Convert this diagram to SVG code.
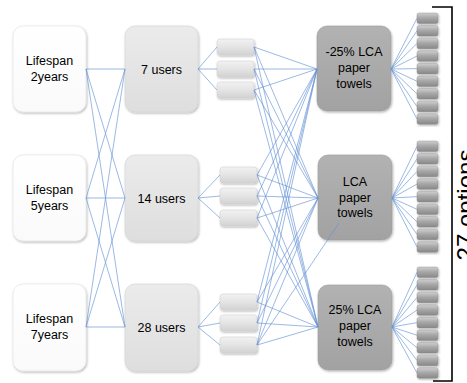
<svg xmlns="http://www.w3.org/2000/svg" width="467" height="383" viewBox="0 0 467 383">
<defs>
<filter id="sh" x="-20%" y="-20%" width="140%" height="140%"><feDropShadow dx="0.8" dy="1.2" stdDeviation="1.2" flood-color="#000" flood-opacity="0.3"/></filter>
<linearGradient id="gWhite" x1="0" y1="0" x2="0" y2="1"><stop offset="0" stop-color="#ffffff"/><stop offset="1" stop-color="#fafafa"/></linearGradient>
<linearGradient id="gLight" x1="0" y1="0" x2="0" y2="1"><stop offset="0" stop-color="#ebebeb"/><stop offset="1" stop-color="#dedede"/></linearGradient>
<linearGradient id="gSmall" x1="0" y1="0" x2="0" y2="1"><stop offset="0" stop-color="#f2f2f2"/><stop offset="0.5" stop-color="#e4e4e4"/><stop offset="1" stop-color="#d2d2d2"/></linearGradient>
<linearGradient id="gDark" x1="0" y1="0" x2="0" y2="1"><stop offset="0" stop-color="#b2b2b2"/><stop offset="1" stop-color="#a2a2a2"/></linearGradient>
<linearGradient id="gTiny" x1="0" y1="0" x2="0" y2="1"><stop offset="0" stop-color="#d0d0d0"/><stop offset="0.45" stop-color="#a8a8a8"/><stop offset="1" stop-color="#888888"/></linearGradient>
</defs>
<style>
.txt{font-family:"Liberation Sans",Arial,sans-serif;font-size:12.5px;fill:#000;text-anchor:middle}
.big{font-family:"Liberation Sans",Arial,sans-serif;font-size:24px;fill:#000;text-anchor:middle}
.life{fill:url(#gWhite);stroke:#e0e0e0;stroke-width:0.6;filter:url(#sh)}
.user{fill:url(#gLight);stroke:#d4d4d4;stroke-width:0.6;filter:url(#sh)}
.small{fill:url(#gSmall);stroke:#cfcfcf;stroke-width:0.5;filter:url(#sh)}
.lca{fill:url(#gDark);stroke:#9c9c9c;stroke-width:0.6;filter:url(#sh)}
.tiny{fill:url(#gTiny);stroke:#8a8a8a;stroke-width:0.4;filter:url(#sh)}
.con{stroke:#6693d6;stroke-width:0.65;fill:none}
.br{stroke:#000;stroke-width:1.6;fill:none}
</style>
<rect width="467" height="383" fill="#fff"/>

<g id="lifespan2"><rect class="life" x="13" y="26" width="73" height="86" rx="10"/><text class="txt" x="49.5" y="65">Lifespan</text><text class="txt" x="49.5" y="81">2years</text></g>
<g id="lifespan5"><rect class="life" x="13" y="155" width="73" height="86" rx="10"/><text class="txt" x="49.5" y="194">Lifespan</text><text class="txt" x="49.5" y="210">5years</text></g>
<g id="lifespan7"><rect class="life" x="13" y="284" width="73" height="87" rx="10"/><text class="txt" x="49.5" y="323">Lifespan</text><text class="txt" x="49.5" y="339">7years</text></g>

<g id="users7"><rect class="user" x="125" y="26" width="73" height="86" rx="10"/><text class="txt" x="161.5" y="73.5">7 users</text></g>
<g id="users14"><rect class="user" x="125" y="155" width="73" height="86" rx="10"/><text class="txt" x="161.5" y="202.5">14 users</text></g>
<g id="users28"><rect class="user" x="125" y="284" width="73" height="87" rx="10"/><text class="txt" x="161.5" y="331.5">28 users</text></g>

<g id="small1"><rect class="small" x="217" y="39" width="37" height="16" rx="3"/></g>
<g id="small2"><rect class="small" x="217" y="61" width="37" height="16" rx="3"/></g>
<g id="small3"><rect class="small" x="217" y="82" width="37" height="16" rx="3"/></g>
<g id="small4"><rect class="small" x="220" y="167" width="37" height="16" rx="3"/></g>
<g id="small5"><rect class="small" x="220" y="188" width="37" height="16" rx="3"/></g>
<g id="small6"><rect class="small" x="220" y="210" width="37" height="16" rx="3"/></g>
<g id="small7"><rect class="small" x="220" y="294" width="37" height="16" rx="3"/></g>
<g id="small8"><rect class="small" x="220" y="315" width="37" height="16" rx="3"/></g>
<g id="small9"><rect class="small" x="220" y="337" width="37" height="16" rx="3"/></g>

<g id="lcaMinus25"><rect class="lca" x="317" y="26" width="74" height="85" rx="10"/><text class="txt" x="354" y="56">-25% LCA</text><text class="txt" x="354" y="72">paper</text><text class="txt" x="354" y="87.5">towels</text></g>
<g id="lca"><rect class="lca" x="318" y="155" width="74" height="85" rx="10"/><text class="txt" x="355" y="186">LCA</text><text class="txt" x="355" y="202">paper</text><text class="txt" x="355" y="217">towels</text></g>
<g id="lcaPlus25"><rect class="lca" x="318" y="285" width="74" height="85" rx="10"/><text class="txt" x="355" y="314">25% LCA</text><text class="txt" x="355" y="330">paper</text><text class="txt" x="355" y="346">towels</text></g>

<g id="options1">
<rect class="tiny" x="417" y="13" width="21" height="10.5" rx="2"/>
<rect class="tiny" x="417" y="25.6" width="21" height="10.5" rx="2"/>
<rect class="tiny" x="417" y="38.2" width="21" height="10.5" rx="2"/>
<rect class="tiny" x="417" y="50.8" width="21" height="10.5" rx="2"/>
<rect class="tiny" x="417" y="63.4" width="21" height="10.5" rx="2"/>
<rect class="tiny" x="417" y="76" width="21" height="10.5" rx="2"/>
<rect class="tiny" x="417" y="88.6" width="21" height="10.5" rx="2"/>
<rect class="tiny" x="417" y="101.2" width="21" height="10.5" rx="2"/>
<rect class="tiny" x="417" y="113.8" width="21" height="10.5" rx="2"/>
</g>
<g id="options2">
<rect class="tiny" x="417" y="141" width="21" height="10.5" rx="2"/>
<rect class="tiny" x="417" y="153.6" width="21" height="10.5" rx="2"/>
<rect class="tiny" x="417" y="166.2" width="21" height="10.5" rx="2"/>
<rect class="tiny" x="417" y="178.8" width="21" height="10.5" rx="2"/>
<rect class="tiny" x="417" y="191.4" width="21" height="10.5" rx="2"/>
<rect class="tiny" x="417" y="204" width="21" height="10.5" rx="2"/>
<rect class="tiny" x="417" y="216.6" width="21" height="10.5" rx="2"/>
<rect class="tiny" x="417" y="229.2" width="21" height="10.5" rx="2"/>
<rect class="tiny" x="417" y="241.8" width="21" height="10.5" rx="2"/>
</g>
<g id="options3">
<rect class="tiny" x="417" y="267" width="21" height="10.5" rx="2"/>
<rect class="tiny" x="417" y="279.6" width="21" height="10.5" rx="2"/>
<rect class="tiny" x="417" y="292.2" width="21" height="10.5" rx="2"/>
<rect class="tiny" x="417" y="304.8" width="21" height="10.5" rx="2"/>
<rect class="tiny" x="417" y="317.4" width="21" height="10.5" rx="2"/>
<rect class="tiny" x="417" y="330" width="21" height="10.5" rx="2"/>
<rect class="tiny" x="417" y="342.6" width="21" height="10.5" rx="2"/>
<rect class="tiny" x="417" y="355.2" width="21" height="10.5" rx="2"/>
<rect class="tiny" x="417" y="367.8" width="21" height="10.5" rx="2"/>
</g>

<g id="bracket"><path class="br" d="M432 7H452V381H433"/><text class="big" transform="translate(474 205) rotate(-90)">27 options</text></g>

<g id="connectors" class="con">
<path d="M86 69L125 69M86 69L125 198M86 69L125 327M86 198L125 69M86 198L125 198M86 198L125 327M86 327L125 69M86 327L125 198M86 327L125 327"/>
<path d="M198 69L217 47M198 69L217 69M198 69L217 90M198 198L220 175M198 198L220 196M198 198L220 218M198 327L220 302M198 327L220 323M198 327L220 345"/>
<path d="M254 47L317 69M254 47L318 198M254 47L318 327M254 69L317 69M254 69L318 198M254 69L318 327M254 90L317 69M254 90L318 198M254 90L318 327"/>
<path d="M257 175L317 69M257 175L318 198M257 175L318 327M257 196L317 69M257 196L318 198M257 196L318 327M257 218L317 69M257 218L318 198M257 218L318 327"/>
<path d="M257 302L317 69M257 302L318 198M257 302L318 327M257 323L317 69M257 323L318 198M257 323L318 327M257 345L317 69M257 345L318 198M257 345L318 327"/>
<path d="M257 345L339 223"/>
<path d="M391 69L417 18.25M391 69L417 30.85M391 69L417 43.45M391 69L417 56.05M391 69L417 68.65M391 69L417 81.25M391 69L417 93.85M391 69L417 106.45M391 69L417 119.05"/>
<path d="M392 198L417 146.25M392 198L417 158.85M392 198L417 171.45M392 198L417 184.05M392 198L417 196.65M392 198L417 209.25M392 198L417 221.85M392 198L417 234.45M392 198L417 247.05"/>
<path d="M392 327L417 272.25M392 327L417 284.85M392 327L417 297.45M392 327L417 310.05M392 327L417 322.65M392 327L417 335.25M392 327L417 347.85M392 327L417 360.45M392 327L417 373.05"/>
</g>
</svg>
